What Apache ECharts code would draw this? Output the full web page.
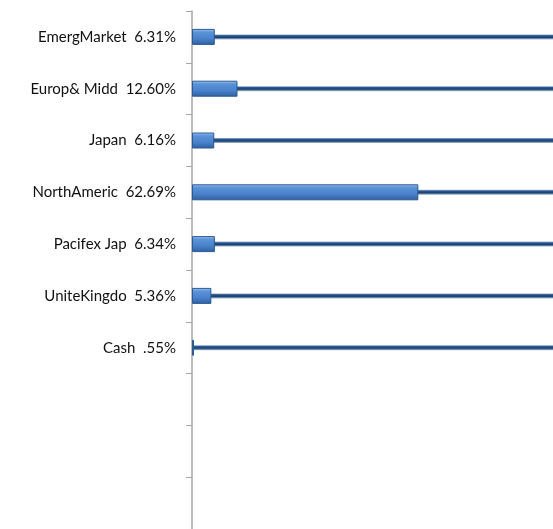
<!DOCTYPE html>
<html>
<head>
<meta charset="utf-8">
<script src="https://cdn.jsdelivr.net/npm/echarts@6/dist/echarts.min.js"></script>
<style>html,body{margin:0;padding:0;background:#fff;}#c{width:553px;height:529px;}</style>
</head>
<body>
<div id="c"></div>
<script>
var categories = ['EmergMarket', 'Europ& Midd', 'Japan', 'NorthAmeric', 'Pacifex Jap', 'UniteKingdo', 'Cash', '', '', ''];
var values = [6.31, 12.60, 6.16, 62.69, 6.34, 5.36, 0.55, null, null, null];
var trackValues = [100, 100, 100, 100, 100, 100, 100, null, null, null];

function fmt(v) {
  return v.toFixed(2).replace(/^0/, '') + '%';
}

var chart = echarts.init(document.getElementById('c'));
chart.setOption({
  animation: false,
  grid: { left: 192, top: 11, width: 363, height: 520, containLabel: false },
  xAxis: { type: 'value', min: 0, max: 100, show: false },
  yAxis: [{
    type: 'category',
    inverse: true,
    data: categories,
    axisLine: { lineStyle: { color: '#a6a6a6', width: 1.5 } },
    axisTick: { show: true, length: 6, lineStyle: { color: '#a6a6a6', width: 1 } },
    axisLabel: {
      margin: 16,
      color: '#111',
      fontFamily: 'Lato',
      fontSize: 15,
      formatter: function (name, idx) {
        if (!name) return '';
        return name + '  ' + fmt(values[idx]);
      }
    }
  }, {
    type: 'category',
    inverse: true,
    data: categories,
    show: false,
    position: 'left'
  }],
  series: [
    {
      type: 'bar',
      yAxisIndex: 1,
      data: trackValues,
      barWidth: 5,
      z: 1,
      silent: true,
      itemStyle: {
        color: new echarts.graphic.LinearGradient(0, 0, 0, 1, [
          { offset: 0, color: '#9fb5d2' },
          { offset: 0.25, color: '#2a5a92' },
          { offset: 0.6, color: '#17406f' },
          { offset: 1, color: '#a9bbd3' }
        ])
      }
    },
    {
      type: 'bar',
      yAxisIndex: 0,
      data: values,
      barWidth: 16,
      z: 3,
      itemStyle: {
        borderColor: '#2b5a93',
        borderWidth: 1,
        color: new echarts.graphic.LinearGradient(0, 0, 0, 1, [
          { offset: 0, color: '#a4c6f0' },
          { offset: 0.2, color: '#5b93d8' },
          { offset: 0.6, color: '#4a83cc' },
          { offset: 1, color: '#2f5f9e' }
        ])
      }
    }
  ]
});
</script>
</body>
</html>
